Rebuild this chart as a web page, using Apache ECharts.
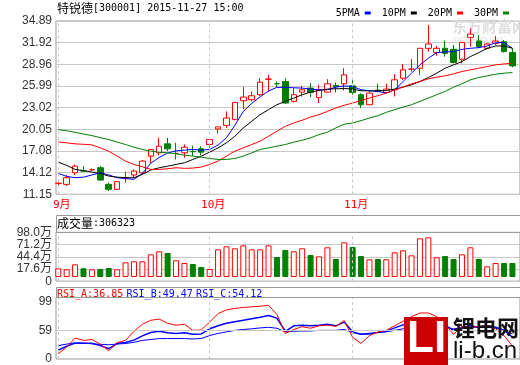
<!DOCTYPE html>
<html><head><meta charset="utf-8">
<script src="https://cdn.jsdelivr.net/npm/echarts@6/dist/echarts.min.js"></script>
<style>html,body{margin:0;padding:0;background:#fff}#c{width:520px;height:365px}</style>
</head><body><div id="c"></div>
<script>
const stockName = '特锐德';
const stockCode = '300001';
const stamp = '2015-11-27 15:00';
const dates = ['2015-09-07','2015-09-08','2015-09-09','2015-09-10','2015-09-11','2015-09-14','2015-09-15','2015-09-16','2015-09-17','2015-09-18','2015-09-21','2015-09-22','2015-09-23','2015-09-24','2015-09-25','2015-09-28','2015-09-29','2015-09-30',
'2015-10-08','2015-10-09','2015-10-12','2015-10-13','2015-10-14','2015-10-15','2015-10-16','2015-10-19','2015-10-20','2015-10-21','2015-10-22','2015-10-23','2015-10-26','2015-10-27','2015-10-28','2015-10-29','2015-10-30',
'2015-11-02','2015-11-03','2015-11-04','2015-11-05','2015-11-06','2015-11-09','2015-11-10','2015-11-11','2015-11-12','2015-11-13','2015-11-16','2015-11-17','2015-11-18','2015-11-19','2015-11-20','2015-11-23','2015-11-24','2015-11-25','2015-11-26','2015-11-27'];
const openP = [12.65,12.51,14.1,14.34,14.5,14.79,12.51,11.83,13.42,13.79,14.1,16.38,16.83,18.06,16.74,16.83,17.0,17.38,17.97,20.1,20.6,21.38,23.97,24.1,24.79,26.92,26.3,26.6,23.88,25.15,25.7,24.42,25.15,26.06,26.29,26.01,24.79,23.42,25.42,25.1,25.47,27.06,28.29,28.42,31.15,30.56,31.15,31.01,29.65,32.65,32.15,31.15,31.83,32.06,30.56];
const closeP = [12.66,13.42,15.01,14.33,14.51,13.1,11.83,12.88,13.43,14.33,15.7,17.29,17.74,17.38,16.75,17.6,16.99,16.92,18.65,20.38,21.6,23.74,24.47,24.65,26.51,26.93,26.29,23.65,24.79,25.47,25.1,25.47,26.29,25.88,27.51,25.1,23.42,25.01,25.24,25.56,26.83,28.2,28.3,31.15,31.74,31.15,30.47,29.2,31.97,33.1,31.38,31.74,32.15,30.7,28.74];
const lowP = [12.3,12.29,13.79,14.3,14.4,13.05,11.6,11.74,12.74,13.42,13.88,15.38,16.51,17.06,15.93,16.15,16.38,16.51,17.51,19.47,20.24,21.3,22.83,23.88,24.65,25.24,25.83,23.56,23.74,24.56,24.47,23.65,25.1,25.1,25.38,24.79,22.97,23.33,25.1,25.01,24.56,26.83,27.97,27.51,30.7,30.15,30.01,29.1,29.1,31.38,31.15,31.01,31.6,30.56,28.56];
const highP = [13.2,13.79,15.24,15.0,14.7,15.0,12.74,12.97,14.24,14.56,15.83,17.33,18.88,18.88,18.2,17.97,17.83,17.74,18.88,20.42,22.51,23.8,25.83,25.24,27.06,27.51,26.6,27.06,25.7,26.0,26.38,26.15,26.92,26.47,28.42,26.83,25.01,25.24,26.29,26.29,27.6,29.01,29.65,31.2,34.33,31.47,32.2,31.6,32.0,33.88,32.97,31.83,32.83,32.29,31.15];
const ma5 = [14.01,13.6,13.42,13.5,13.8,14.1,13.8,13.42,13.3,13.2,14.0,15.4,16.2,16.8,17.1,17.2,17.3,17.2,17.3,17.9,18.9,20.6,22.5,23.6,24.5,25.3,25.8,25.8,25.74,25.7,25.56,25.47,25.47,25.83,26.0,25.92,25.47,25.33,25.24,25.01,25.47,26.6,27.74,28.88,29.79,30.56,30.65,30.7,31.01,31.15,31.24,31.47,31.92,31.92,31.15];
const ma10 = [15.56,15.1,14.56,14.4,14.2,14.0,13.65,13.5,13.42,13.42,13.88,14.47,14.79,15.0,15.24,15.47,15.92,16.38,16.92,17.51,18.2,19.1,20.24,21.15,22.06,22.74,23.42,23.88,24.33,24.79,25.15,25.38,25.56,25.6,25.65,25.56,25.33,25.33,25.33,25.38,25.56,25.83,26.15,26.6,27.15,27.74,28.42,28.88,29.33,30.01,30.56,31.15,31.47,31.47,31.15];
const ma20 = [18.33,18.2,18.06,18.0,17.92,17.51,17.06,16.38,15.7,15.24,14.92,14.56,14.56,14.65,14.79,14.7,14.74,14.88,15.24,15.7,16.38,17.06,17.51,17.97,18.42,19.1,19.79,20.47,20.92,21.29,21.74,22.06,22.51,22.97,23.35,23.65,24.01,24.33,24.65,25.01,25.47,25.83,26.29,26.6,26.97,27.2,27.38,27.65,27.97,28.2,28.42,28.65,28.88,29.01,29.1];
const ma30 = [20.01,19.85,19.65,19.4,19.2,18.9,18.65,18.3,17.97,17.6,17.29,17.06,16.92,16.83,16.7,16.51,16.38,16.24,16.06,15.92,15.92,16.06,16.38,16.83,17.29,17.51,17.74,17.97,18.29,18.56,18.88,19.33,19.65,20.24,20.75,20.92,21.24,21.6,21.92,22.38,22.74,23.1,23.42,23.88,24.33,24.79,25.24,25.83,26.29,26.83,27.15,27.38,27.6,27.74,27.83];
const volume = [19.1,16.9,27.8,19.1,16.9,17.6,19.8,16.9,32.2,34.4,34.4,49.7,56.3,52.6,36.6,30.7,28.6,22.0,17.6,60.7,67.3,62.9,69.4,60.7,60.7,69.4,43.9,59.2,56.3,62.9,48.3,45.3,65.1,39.5,76.0,65.8,46.1,38.8,39.5,38.8,54.1,58.5,47.5,84.8,87.0,43.2,46.1,39.5,49.7,65.1,39.5,23.4,30.7,30.7,30.63];
const lastVolume = 306323;
const rsiA = [26.2,35.5,48.3,44.9,46.2,39.8,30.4,41.9,44.9,57.7,67.5,73.0,74.7,68.8,66.2,67.5,59.0,59.5,70.5,82.4,87.5,89.6,90.9,91.8,92.6,93.9,81.0,54.7,60.2,64.1,61.9,65.3,66.2,64.5,72.6,49.2,40.7,51.7,56.8,59.0,65.3,71.7,78.1,83.2,83.2,78.1,67.5,53.4,64.5,63.2,64.5,65.3,61.1,51.7,36.85];
const rsiB = [31.3,36.8,41.1,41.1,41.1,37.7,33.4,40.6,41.9,45.3,51.3,56.0,57.7,55.5,54.7,55.5,53.4,54.0,61.1,65.3,68.8,70.9,73.0,75.1,77.3,79.8,76.0,57.7,65.3,66.2,65.3,66.2,67.5,65.3,70.5,56.8,53.4,54.7,56.0,57.7,62.4,66.6,70.5,73.9,74.7,70.5,66.2,59.0,63.2,65.3,63.2,65.3,63.2,59.0,49.47];
const rsiC = [37.7,39.8,41.5,41.1,40.2,39.4,38.9,39.8,40.6,42.3,44.9,46.2,47.5,47.5,47.5,47.5,47.0,47.5,51.7,54.7,56.8,59.0,60.2,61.1,62.4,63.2,61.9,56.8,57.7,58.1,58.1,59.0,59.0,59.0,60.2,56.0,53.4,53.8,56.0,56.8,59.0,61.1,62.4,64.1,65.3,65.3,63.2,61.1,61.9,63.2,63.2,63.2,61.9,59.0,54.12];
const priceTicks = ['11.15','14.12','17.08','20.05','23.02','25.99','28.96','31.92','34.89'];
const volTicks = ['0','17.6万','44.4万','71.2万','98.0万'];
const rsiTicks = ['0','59','99'];
const maNames = ['5PMA','10PM','20PM','30PM'];

const RED = '#ff0000', GREEN = '#008000', BLUE = '#0000ff';
const N = dates.length;
const xMin = -0.27, xMax = 54.9;
const monthStarts = dates.map((d, i) => (i === 0 || d.slice(5, 7) !== dates[i - 1].slice(5, 7)) ? i : -1).filter(i => i >= 0);
const monthName = i => parseInt(dates[Math.round(i)].slice(5, 7), 10) + '月';
const isUp = i => closeP[i] >= openP[i];
const MONO = "'DejaVu Sans Mono', 'Noto Sans CJK SC', monospace";
const CJK = "'Noto Sans CJK SC', sans-serif";
const SANS = "'Liberation Sans', 'Noto Sans CJK SC', sans-serif";

function tickFmt(list, min, step) {
  return v => {
    const k = Math.round((v - min) / step);
    if (Math.abs(v - (min + k * step)) > 0.01) return '';
    return list[k] == null ? '' : list[k];
  };
}
function xAxisOf(gi, showLabel) {
  return {
    type: 'value', gridIndex: gi, min: xMin, max: xMax,
    axisLine: { show: false }, axisTick: { show: false, customValues: monthStarts }, splitLine: { show: false },
    axisLabel: showLabel ? {
      show: true, customValues: monthStarts, formatter: v => monthName(v),
      color: RED, fontFamily: MONO, fontSize: 11, margin: 5, align: 'center', padding: [0, 0, 0, 7]
    } : { show: false }
  };
}
const yLabel = { color: '#333', fontFamily: SANS, fontSize: 12, margin: 4 };
const monthLine = {
  silent: true, symbol: 'none', label: { show: false }, animation: false,
  lineStyle: { color: '#c8c8c8', type: [3, 3], width: 1 },
  data: monthStarts.map(i => ({ xAxis: i }))
};
const maSeries = [ma5, ma10, ma20, ma30].map((arr, k) => ({
  name: maNames[k], type: 'line', xAxisIndex: 0, yAxisIndex: 0, z: 3,
  data: arr.map((v, i) => [i, v]), showSymbol: false, symbol: 'none',
  lineStyle: { width: 1, color: [BLUE, '#000000', RED, GREEN][k] },
  itemStyle: { color: [BLUE, '#000000', RED, GREEN][k] }
}));

const chart = echarts.init(document.getElementById('c'));
chart.setOption({
  animation: false,
  backgroundColor: '#ffffff',
  legend: {
    data: maNames, right: 6, top: 3, icon: 'rect', itemWidth: 6, itemHeight: 3, itemGap: 11, align: 'right',
    textStyle: { fontFamily: MONO, fontSize: 10, color: '#000' }, selectedMode: false
  },
  grid: [
    { left: 56, right: 0, top: 21, height: 173.3, show: true, borderColor: '#999', borderWidth: 1 },
    { left: 56, right: 0, top: 232.3, height: 48.9, show: true, borderColor: '#999', borderWidth: 1 },
    { left: 56, right: 0, top: 297.5, height: 67.1, show: true, borderColor: '#999', borderWidth: 1 }
  ],
  xAxis: [xAxisOf(0, true), xAxisOf(1, false), xAxisOf(2, false)],
  yAxis: [
    { type: 'value', gridIndex: 0, min: 11.15, max: 34.89, interval: 2.9675,
      axisLine: { show: false }, axisTick: { show: false },
      splitLine: { lineStyle: { color: '#c8c8c8' } },
      axisLabel: Object.assign({ formatter: tickFmt(priceTicks, 11.15, 2.9675) }, yLabel) },
    { type: 'value', gridIndex: 1, min: -9.2, max: 98, interval: 26.8,
      axisLine: { show: false }, axisTick: { show: false },
      splitLine: { lineStyle: { color: '#c8c8c8' } },
      axisLabel: Object.assign({ formatter: tickFmt(volTicks, -9.2, 26.8) }, yLabel) },
    { type: 'value', gridIndex: 2, min: 19, max: 104.8, interval: 40,
      axisLine: { show: false }, axisTick: { show: false }, splitLine: { show: false },
      axisLabel: Object.assign({ formatter: tickFmt(rsiTicks, 19, 40), showMaxLabel: false,
        verticalAlignMinLabel: 'middle', hideOverlap: false }, yLabel) }
  ],
  series: [
    {
      type: 'candlestick', xAxisIndex: 0, yAxisIndex: 0, barWidth: 6, clip: false, z: 2,
      encode: { x: 0, y: [1, 2, 3, 4] },
      data: openP.map((o, i) => [i, o, closeP[i], lowP[i], highP[i]]),
      itemStyle: { color: '#ffffff', color0: GREEN, borderColor: RED, borderColor0: GREEN, borderWidth: 1 },
      markLine: monthLine
    },
    ...maSeries,
    {
      type: 'bar', xAxisIndex: 1, yAxisIndex: 1, barWidth: 6, startValue: -9.2,
      data: volume.map((v, i) => ({
        value: [i, v],
        itemStyle: isUp(i) ? { color: '#ffffff', borderColor: RED, borderWidth: 1 } : { color: GREEN, borderColor: GREEN, borderWidth: 1 }
      })),
      markLine: monthLine
    },
    { name: 'RSI_A', type: 'line', xAxisIndex: 2, yAxisIndex: 2, showSymbol: false, symbol: 'none', z: 4,
      data: rsiA.map((v, i) => [i, v]), lineStyle: { width: 1, color: RED }, markLine: monthLine },
    { name: 'RSI_B', type: 'line', xAxisIndex: 2, yAxisIndex: 2, showSymbol: false, symbol: 'none', z: 3,
      data: rsiB.map((v, i) => [i, v]), lineStyle: { width: 1.5, color: BLUE } },
    { name: 'RSI_C', type: 'line', xAxisIndex: 2, yAxisIndex: 2, showSymbol: false, symbol: 'none', z: 3,
      data: rsiC.map((v, i) => [i, v]), lineStyle: { width: 1, color: BLUE },
      markLine: { silent: true, symbol: 'none', label: { show: false }, lineStyle: { color: '#c8c8c8', type: 'solid', width: 1 }, data: [{ yAxis: 59 }] } }
  ],
  graphic: [
    { type: 'text', left: 57, top: 2, z: 10,
      style: { text: '{c|' + stockName + '}{m|[' + stockCode + '] ' + stamp + '}',
        rich: { c: { fontFamily: CJK, fontSize: 12, fill: '#000' }, m: { fontFamily: MONO, fontSize: 10, fill: '#000' } } } },
    { type: 'text', left: 452, top: 19, z: 1, silent: true,
      style: { text: '东方财富网', fontFamily: CJK, fontSize: 15, fontWeight: 'bold', fill: '#dedede' } },
    { type: 'text', left: 454, top: 36, z: 1, silent: true,
      style: { text: 'eastmoney.com', fontFamily: SANS, fontSize: 7, fill: '#e4e4e4' } },
    { type: 'rect', z: 10, shape: { x: 56.5, y: 215.5, width: 470, height: 17 },
      style: { fill: 'none', stroke: '#999', lineWidth: 1 } },
    { type: 'text', left: 57, top: 217, z: 10,
      style: { text: '{c|成交量}{m|:' + lastVolume + '}',
        rich: { c: { fontFamily: CJK, fontSize: 12, fill: '#000' }, m: { fontFamily: MONO, fontSize: 10, fill: '#000' } } } },
    { type: 'rect', z: 10, shape: { x: 56.5, y: 287.5, width: 470, height: 10 },
      style: { fill: '#fff', stroke: '#999', lineWidth: 1 } },
    { type: 'text', left: 57, top: 288, z: 11,
      style: { text: '{a|RSI_A:' + rsiA[N - 1].toFixed(2) + '} {b|RSI_B:' + rsiB[N - 1].toFixed(2) + '} {b|RSI_C:' + rsiC[N - 1].toFixed(2) + '}',
        rich: { a: { fontFamily: MONO, fontSize: 10, fill: RED }, b: { fontFamily: MONO, fontSize: 10, fill: BLUE } } } },
    { type: 'rect', z: 20, shape: { x: 404, y: 317, width: 44, height: 48 }, style: { fill: '#cc0000' } },
    { type: 'text', z: 21, left: 407, top: 318,
      style: { text: 'LI', fontFamily: SANS, fontSize: 44, fontWeight: 'bold', fill: '#ffffff' } },
    { type: 'text', z: 21, left: 453, top: 317,
      style: { text: '锂电网', fontFamily: CJK, fontSize: 22, fontWeight: 'bold', fill: '#111' } },
    { type: 'text', z: 21, left: 453, top: 339,
      style: { text: 'li-b.cn', fontFamily: SANS, fontSize: 24, fill: '#111' } }
  ]
});
</script>
</body></html>
